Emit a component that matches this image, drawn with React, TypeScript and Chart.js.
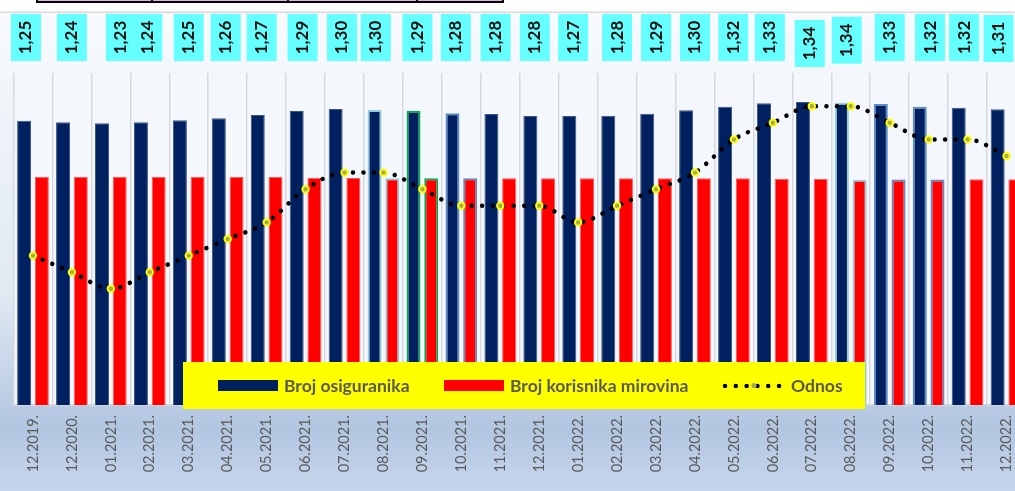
import React, { useEffect, useRef } from 'react';
import { Chart, registerables } from 'chart.js';

Chart.register(...registerables);

const categories = [
  '12.2019.', '12.2020.', '01.2021.', '02.2021.', '03.2021.', '04.2021.', '05.2021.',
  '06.2021.', '07.2021.', '08.2021.', '09.2021.', '10.2021.', '11.2021.', '12.2021.',
  '01.2022.', '02.2022.', '03.2022.', '04.2022.', '05.2022.', '06.2022.', '07.2022.',
  '08.2022.', '09.2022.', '10.2022.', '11.2022.', '12.2022.',
];

const brojOsiguranika = [
  1541500, 1532800, 1527400, 1532800, 1543600, 1554500, 1572400, 1594100, 1604900,
  1599500, 1595700, 1581600, 1577800, 1567000, 1567000, 1568600, 1579400, 1597900,
  1617400, 1635800, 1642900, 1639100, 1632000, 1617400, 1612000, 1603300,
];

const brojKorisnika = [
  1237500, 1237500, 1237500, 1237500, 1237500, 1236000, 1236000, 1232500, 1231000,
  1229500, 1230000, 1230000, 1229000, 1229000, 1229000, 1229000, 1229000, 1229000,
  1229000, 1227000, 1225500, 1221000, 1223000, 1223000, 1224000, 1224000,
];

const odnos = [
  1.25, 1.24, 1.23, 1.24, 1.25, 1.26, 1.27, 1.29, 1.30, 1.30, 1.29, 1.28, 1.28,
  1.28, 1.27, 1.28, 1.29, 1.30, 1.32, 1.33, 1.34, 1.34, 1.33, 1.32, 1.32, 1.31,
];

// small manual nudges of the value labels (relative to the category centre)
const labelDx = [
  -7, 0, 10, -2.5, 0, -2, -5, -3, -2.5, -7.7, -5, -5.5, -4.7, -4.4, -5, 0, 0, 0,
  -0.7, -3, -2, -4, 0, 1.4, -3.5, -8,
];
const labelDy = [
  0, 0, 0, 0, 0, 0, 0, 0, 0, 0, 0, 0, 0, 0, 0, 0, 0, 0, 0, 0, 6, 2.7, 0, 0, 0, 1,
];

const NAVY = '#002060';
const RED = '#ff0000';
const highlight: Record<number, string> = {
  9: '#92cddc', 10: '#00b050', 11: '#5b8cc8', 21: '#92cddc', 22: '#5b8cc8', 23: '#5b8cc8',
};
const navyBorder = categories.map((_, i) => highlight[i] || '#3a5688');
const redBorder = categories.map((_, i) => highlight[i] || '#ff5c5c');
const borderW = categories.map((_, i) => (highlight[i] ? 2 : 1));

const FONT = 'Lato, "Open Sans", sans-serif';

const backgroundPlugin = {
  id: 'bgPlugin',
  beforeDraw(chart: any) {
    const { ctx, width, height, chartArea } = chart;
    ctx.save();
    ctx.fillStyle = '#ffffff';
    ctx.fillRect(0, 0, width, height);
    const g = ctx.createLinearGradient(0, 12, 0, height);
    g.addColorStop(0, '#f8fafd');
    g.addColorStop(0.6, '#e0e8f2');
    g.addColorStop(0.82, '#b9cbe3');
    g.addColorStop(0.87, '#b2c6e0');
    g.addColorStop(1, '#c6d6ec');
    ctx.fillStyle = g;
    ctx.fillRect(0, 12, width, height - 12);
    ctx.fillStyle = '#d9d9d9';
    ctx.fillRect(0, 11.5, width, 1.5);
    ctx.fillStyle = '#f4f7fb';
    ctx.fillRect(chartArea.left, chartArea.top, chartArea.right - chartArea.left, chartArea.bottom - chartArea.top);
    // cut-off table border at the very top
    ctx.fillStyle = '#e2b0e2';
    ctx.fillRect(36, 0, 468, 1);
    ctx.fillStyle = '#000000';
    ctx.fillRect(36, 1, 468, 2);
    [37, 152, 288, 417, 503].forEach((x) => ctx.fillRect(x - 1, 0, 2, 3));
    ctx.restore();
  },
};

const valueLabelPlugin = {
  id: 'valueLabels',
  afterDatasetsDraw(chart: any) {
    const { ctx } = chart;
    const xs = chart.scales.x;
    ctx.save();
    odnos.forEach((v, i) => {
      const cx = xs.getPixelForValue(i) + labelDx[i];
      const top = 14 + labelDy[i];
      const w = 30;
      const h = 47;
      ctx.fillStyle = '#66ffff';
      ctx.fillRect(cx - w / 2, top, w, h);
      ctx.translate(cx, top + h / 2);
      ctx.rotate(-Math.PI / 2);
      ctx.fillStyle = '#111111';
      ctx.font = `bold 17px ${FONT}`;
      ctx.textAlign = 'center';
      ctx.textBaseline = 'middle';
      ctx.fillText(v.toFixed(2).replace('.', ','), 0, 0);
      ctx.setTransform(1, 0, 0, 1, 0, 0);
    });
    ctx.restore();
  },
};

const legendPlugin = {
  id: 'customLegend',
  afterDraw(chart: any) {
    const { ctx } = chart;
    const ds = chart.data.datasets;
    ctx.save();
    ctx.fillStyle = '#ffff00';
    ctx.fillRect(183, 362, 682, 47);
    const cy = 386;
    ctx.font = `bold 17.5px ${FONT}`;
    ctx.textBaseline = 'middle';
    ctx.textAlign = 'left';
    const barItems = [
      { d: ds[1], x: 218 },
      { d: ds[2], x: 444 },
    ];
    barItems.forEach(({ d, x }) => {
      ctx.fillStyle = d.backgroundColor;
      ctx.fillRect(x, 380, 60, 11);
      ctx.fillStyle = '#595959';
      ctx.fillText(d.label, x + 66, cy);
    });
    const ld = ds[0];
    ctx.strokeStyle = ld.borderColor;
    ctx.lineWidth = 4.5;
    ctx.lineCap = 'round';
    ctx.setLineDash([0.01, 10.8]);
    ctx.beginPath();
    ctx.moveTo(725, cy);
    ctx.lineTo(781, cy);
    ctx.stroke();
    ctx.setLineDash([]);
    ctx.fillStyle = ld.pointBackgroundColor;
    ctx.beginPath();
    ctx.arc(754, cy - 0.5, 2.6, 0, Math.PI * 2);
    ctx.fill();
    ctx.fillStyle = '#595959';
    ctx.fillText(ld.label, 791, cy);
    ctx.restore();
  },
};

export default function App() {
  const ref = useRef<HTMLCanvasElement | null>(null);

  useEffect(() => {
    document.body.style.margin = '0';
    const canvas = ref.current;
    if (!canvas) return;
    const chart = new Chart(canvas, {
      type: 'bar',
      data: {
        labels: categories,
        datasets: [
          {
            type: 'line',
            label: 'Odnos',
            data: odnos,
            yAxisID: 'y1',
            order: 0,
            borderColor: '#000000',
            borderWidth: 4.5,
            borderDash: [0.01, 10.5],
            borderCapStyle: 'round',
            cubicInterpolationMode: 'monotone',
            pointRadius: 3.2,
            pointBorderWidth: 2,
            pointBackgroundColor: '#a2aa62',
            pointBorderColor: '#ffff00',
            fill: false,
          } as any,
          {
            type: 'bar',
            label: 'Broj osiguranika',
            data: brojOsiguranika,
            yAxisID: 'y',
            order: 1,
            backgroundColor: NAVY,
            borderColor: navyBorder,
            borderWidth: borderW,
            categoryPercentage: 0.91,
            barPercentage: 0.79,
          } as any,
          {
            type: 'bar',
            label: 'Broj korisnika mirovina',
            data: brojKorisnika,
            yAxisID: 'y',
            order: 2,
            backgroundColor: RED,
            borderColor: redBorder,
            borderWidth: borderW,
            categoryPercentage: 0.91,
            barPercentage: 0.79,
          } as any,
        ],
      },
      options: {
        responsive: false,
        maintainAspectRatio: false,
        devicePixelRatio: 1,
        animation: false,
        layout: { padding: { top: 73, left: 13.5, right: 14, bottom: 0 } },
        plugins: {
          legend: { display: false },
          tooltip: { enabled: false },
        },
        scales: {
          x: {
            offset: true,
            grid: { offset: true, color: '#d5d9df', lineWidth: 1.5, drawTicks: false },
            border: { display: true, color: '#d0d6de', width: 2 },
            ticks: {
              color: '#595959',
              font: { family: FONT, size: 14.5 },
              minRotation: 90,
              maxRotation: 90,
              padding: 10,
              autoSkip: false,
            },
            afterFit: (s: any) => {
              s.height = 86;
            },
          },
          y: { display: false, min: 0, max: 1800000 },
          y1: { display: false, min: 1.16, max: 1.36, position: 'right' },
        },
      } as any,
      plugins: [backgroundPlugin, valueLabelPlugin, legendPlugin],
    });
    return () => chart.destroy();
  }, []);

  return (
    <div style={{ position: 'fixed', left: 0, top: 0, width: 1015, height: 491, overflow: 'hidden', background: '#fff' }}>
      <canvas ref={ref} width={1040} height={491} style={{ display: 'block' }} />
    </div>
  );
}
